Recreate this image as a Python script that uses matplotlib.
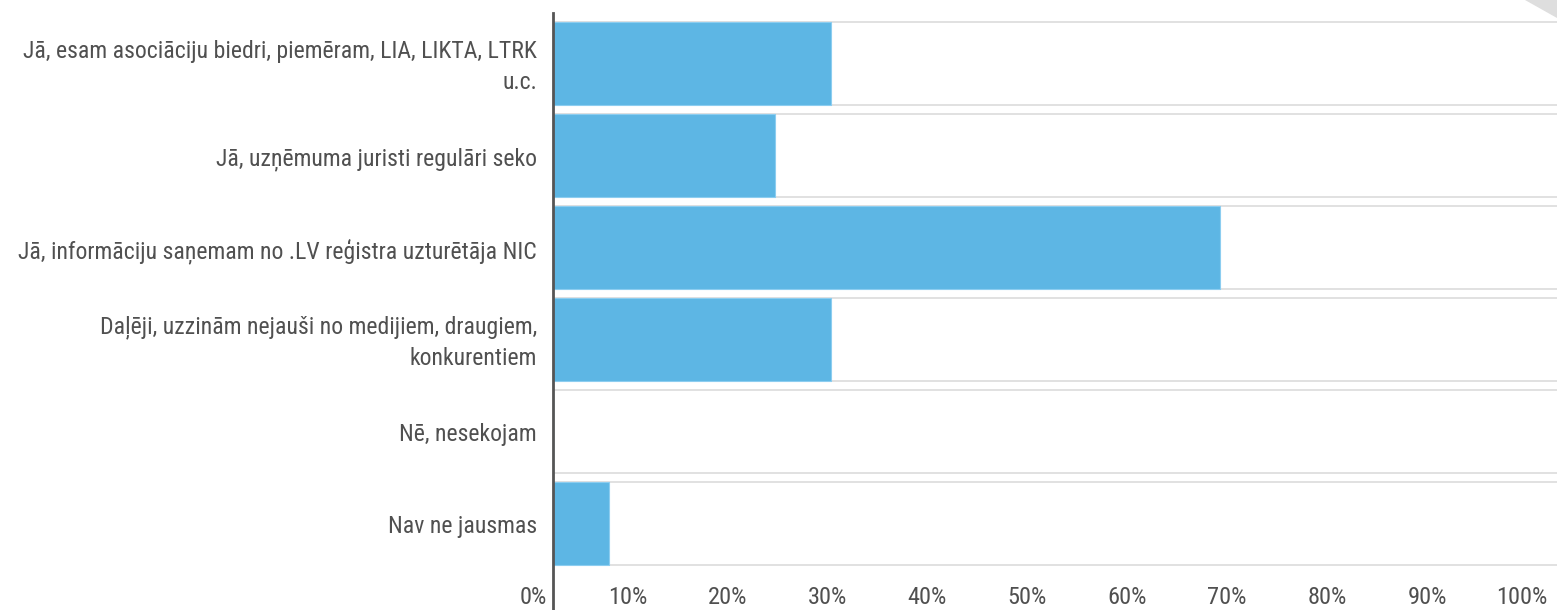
import matplotlib
matplotlib.use("Agg")
import matplotlib.pyplot as plt
from matplotlib.patches import Polygon
import matplotlib.transforms as mtransforms

categories = [
    "Jā, esam asociāciju biedri, piemēram, LIA, LIKTA, LTRK\nu.c.",
    "Jā, uzņēmuma juristi regulāri seko",
    "Jā, informāciju saņemam no .LV reģistra uzturētāja NIC",
    "Daļēji, uzzinām nejauši no medijiem, draugiem,\nkonkurentiem",
    "Nē, nesekojam",
    "Nav ne jausmas",
]
values = [27.78, 22.22, 66.67, 27.78, 0.0, 5.56]
xticks = [0, 10, 20, 30, 40, 50, 60, 70, 80, 90, 100]
xtick_labels = [f"{t}%" for t in xticks]

plt.rcParams['font.family'] = ['Roboto Condensed', 'Roboto', 'DejaVu Sans']

W, H = 1557, 610
fig = plt.figure(figsize=(W / 100, H / 100), dpi=100)
ax = fig.add_axes([553 / W, 0, (1557 - 553) / W, (610 - 13) / H])

bar_h = 83 / 92
n = len(categories)
pos = list(range(n))
ax.set_xlim(0, 100.4)
ax.set_ylim(5.946, -0.549)

for i in pos:
    for y in (i - bar_h / 2, i + bar_h / 2):
        ax.axhline(y, color="#dcdcdc", lw=1.2, zorder=1)

ax.barh(pos, values, height=bar_h, color="#5db6e4", edgecolor="#8ccdf0",
        linewidth=0.8, zorder=2)

ax.set_xticks([])
ax.set_yticks([])
for s in ("top", "right", "bottom"):
    ax.spines[s].set_visible(False)
ax.spines["left"].set_color("#555555")
ax.spines["left"].set_linewidth(2)

text_color = "#505050"
lab_tr = mtransforms.offset_copy(ax.transData, fig=fig, x=0, y=-3.5, units="dots")
for i, lab in enumerate(categories):
    ax.text(-1.6, i, lab, transform=lab_tr, ha="right", va="center",
            fontsize=17.1, color=text_color, linespacing=1.45)

off = mtransforms.offset_copy(ax.transData, fig=fig, x=-6, y=0, units="dots")
tr = mtransforms.blended_transform_factory(off, ax.transAxes)
for t, lab in zip(xticks, xtick_labels):
    ax.text(t, 13 / (610 - 13), lab, transform=tr, ha="right", va="center",
            fontsize=17.6, color=text_color)

tri = Polygon([[1525 / W, 1.0], [1.0, 1.0], [1.0, 1 - 18 / H]],
              closed=True, transform=fig.transFigure, facecolor="#dedede",
              edgecolor="none")
fig.patches.append(tri)

fig.savefig("out.png", dpi=100)
